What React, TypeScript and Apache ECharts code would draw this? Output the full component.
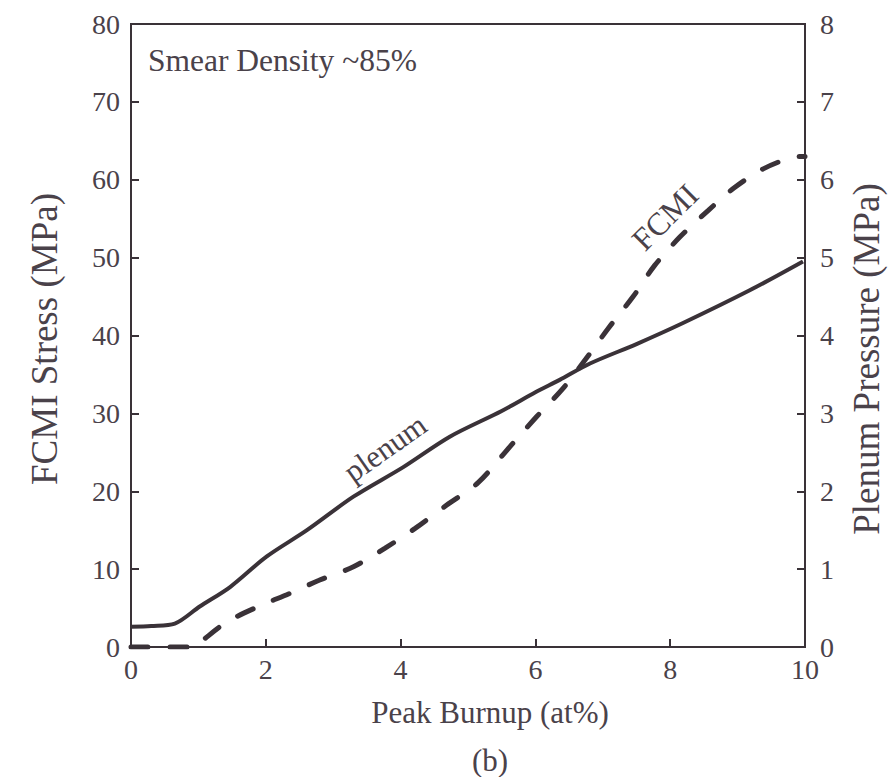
import React, { useEffect, useRef } from "react";
import * as echarts from "echarts";

// Peak burnup (at%) vs. FCMI stress (MPa) — dashed curve, left axis
const fcmiBurnup = [0, 0.95, 1.07, 1.42, 1.89, 2.36, 2.8, 3.3, 3.77, 4.21, 4.68, 5.15, 5.62, 6.02, 6.41, 6.75, 7.08, 7.45, 7.77, 8.15, 8.57, 8.94, 9.38, 9.83, 10];
const fcmiStress = [0, 0, 0.9, 3.2, 5.2, 6.9, 8.6, 10.3, 12.7, 15.2, 18.2, 21.1, 25.7, 29.6, 33.2, 37.0, 40.9, 45.0, 49.0, 52.7, 56.1, 58.9, 61.4, 62.9, 63.0];

// Peak burnup (at%) vs. plenum pressure (MPa) — solid curve, right axis
const plenumBurnup = [0, 0.3, 0.65, 1.02, 1.47, 2.01, 2.61, 3.3, 4.04, 4.73, 5.5, 6.0, 6.36, 6.81, 7.5, 8.19, 9.18, 9.97];
const plenumPressure = [0.26, 0.27, 0.3, 0.52, 0.77, 1.16, 1.5, 1.93, 2.31, 2.7, 3.03, 3.27, 3.43, 3.64, 3.89, 4.16, 4.58, 4.95];

const xTicks = { min: 0, max: 10, interval: 2 };
const stressTicks = { min: 0, max: 80, interval: 10 };
const pressureTicks = { min: 0, max: 8, interval: 1 };

const INK = "#3a3238";
const TEXT = "#4a424a";
const FONT = "'Liberation Serif', 'DejaVu Serif', serif";

export default function App() {
  const ref = useRef<HTMLDivElement>(null);

  useEffect(() => {
    if (!ref.current) return;
    const chart = echarts.init(ref.current, null, { renderer: "svg" });

    const axisLabel = { color: TEXT, fontFamily: FONT, fontSize: 28 };
    const axisLine = { show: true, lineStyle: { color: INK, width: 2 } };
    const axisTick = { show: true, inside: true, length: 8, lineStyle: { color: INK, width: 2 } };
    const label = (
      text: string,
      x: number,
      y: number,
      size: number,
      deg = 0,
      align: "left" | "center" = "center"
    ) => ({
      type: "text",
      x,
      y,
      rotation: (deg * Math.PI) / 180,
      style: { text, fill: TEXT, font: `${size}px ${FONT}`, align, verticalAlign: "middle" },
    });

    chart.setOption({
      animation: false,
      backgroundColor: "#ffffff",
      grid: {
        left: 131,
        right: 87,
        top: 24,
        bottom: 130,
        show: true,
        borderColor: INK,
        borderWidth: 2,
        backgroundColor: "transparent",
      },
      xAxis: {
        type: "value",
        ...xTicks,
        axisLine,
        axisTick,
        axisLabel: { ...axisLabel, margin: 8 },
        splitLine: { show: false },
      },
      yAxis: [
        {
          type: "value",
          ...stressTicks,
          position: "left",
          axisLine,
          axisTick,
          axisLabel: { ...axisLabel, margin: 11 },
          splitLine: { show: false },
        },
        {
          type: "value",
          ...pressureTicks,
          position: "right",
          axisLine,
          axisTick,
          axisLabel: { ...axisLabel, margin: 15 },
          splitLine: { show: false },
        },
      ],
      series: [
        {
          name: "FCMI",
          type: "line",
          yAxisIndex: 0,
          smooth: 0.3,
          showSymbol: false,
          data: fcmiBurnup.map((x, i) => [x, fcmiStress[i]]),
          lineStyle: { color: INK, width: 5, type: [17, 22], cap: "round" },
        },
        {
          name: "plenum",
          type: "line",
          yAxisIndex: 1,
          smooth: 0.3,
          showSymbol: false,
          data: plenumBurnup.map((x, i) => [x, plenumPressure[i]]),
          lineStyle: { color: INK, width: 4 },
        },
      ],
      graphic: [
        // axis titles
        label("Peak Burnup (at%)", 490, 712, 31),
        label("FCMI Stress (MPa)", 44, 339, 37, 90),
        label("Plenum Pressure (MPa)", 866, 359, 37, 90),
        // annotations
        label("Smear Density ~85%", 148, 60, 31.5, 0, "left"),
        label("plenum", 385, 448, 31, 35),
        label("FCMI", 665, 217, 32, 45),
        label("(b)", 490, 760, 31),
      ],
    });

    return () => chart.dispose();
  }, []);

  return (
    <div
      ref={ref}
      style={{ position: "fixed", left: 0, top: 0, width: 892, height: 777, background: "#fff" }}
    />
  );
}
